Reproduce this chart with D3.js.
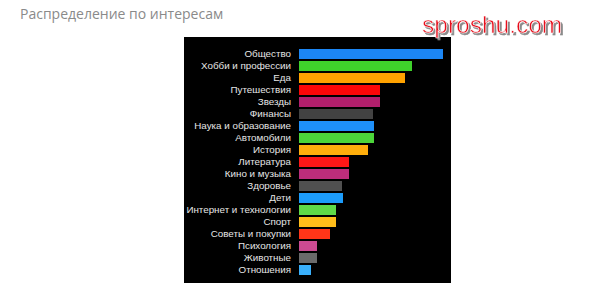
<!DOCTYPE html>
<html>
<head>
<meta charset="utf-8">
<script src="https://cdn.jsdelivr.net/npm/d3@7"></script>
<style>
  body { margin: 0; background: #fff; }
  svg { display: block; }
</style>
</head>
<body>
<svg id="chart" width="600" height="285"></svg>
<script>
var categories = ['Общество', 'Хобби и профессии', 'Еда', 'Путешествия', 'Звезды', 'Финансы',
    'Наука и образование', 'Автомобили', 'История', 'Литература', 'Кино и музыка', 'Здоровье',
    'Дети', 'Интернет и технологии', 'Спорт', 'Советы и покупки', 'Психология', 'Животные', 'Отношения'];
var values = [144, 113, 106, 81, 81, 74, 75, 75, 69, 50, 50, 43, 44, 37, 37, 31, 18, 18, 12];
var barColors = ['#1c86f4', '#3fd12b', '#ffa200', '#fd0707', '#b21f6c', '#424242',
    '#1e90fa', '#4cd53a', '#ffae0c', '#fe1717', '#bd2d7b', '#505050',
    '#1c9cfb', '#5fd948', '#ffbd1a', '#ff3518', '#cc4a92', '#6a6a6a', '#3ab0fb'];

var svg = d3.select('#chart');

// shadow for the watermark
var defs = svg.append('defs');
defs.append('filter').attr('id', 'wmShadow')
    .attr('x', '-10%').attr('y', '-30%').attr('width', '130%').attr('height', '170%')
    .append('feDropShadow')
    .attr('dx', 2).attr('dy', 2).attr('stdDeviation', 0.6)
    .attr('flood-color', '#8a8a8a').attr('flood-opacity', 1);

// title
svg.append('text')
    .attr('x', 20).attr('y', 19)
    .style('font-family', 'Open Sans')
    .style('font-size', '14px')
    .style('fill', '#8a8a8a')
    .text('Распределение по интересам');

// black panel
svg.append('rect')
    .attr('x', 184).attr('y', 37)
    .attr('width', 267).attr('height', 246)
    .style('fill', '#000');

var y = d3.scaleBand()
    .domain(categories)
    .range([48, 276])
    .paddingInner(1 / 6)
    .paddingOuter(1 / 12);

var x = d3.scaleLinear()
    .domain([0, 144])
    .range([299, 443]);

var g = svg.append('g');

g.selectAll('.bar')
    .data(categories)
    .enter().append('rect')
    .attr('class', 'bar')
    .attr('x', x(0))
    .attr('y', function(d) { return y(d); })
    .attr('height', y.bandwidth())
    .attr('width', function(d, i) { return x(values[i]) - x(0); })
    .style('fill', function(d, i) { return barColors[i]; });

var yAxis = d3.axisLeft(y).tickSize(0).tickPadding(0);
var axisG = svg.append('g')
    .attr('transform', 'translate(291,0)')
    .call(yAxis);
axisG.select('.domain').remove();
axisG.selectAll('text')
    .style('font-family', 'Liberation Sans, Arial')
    .style('font-size', '9.8px')
    .style('fill', '#e6e6e6');

// watermark
svg.append('text')
    .attr('x', 422).attr('y', 33)
    .style('font-family', 'Liberation Sans, Arial')
    .style('font-size', '24.5px')
    .style('fill', '#e8101c')
    .style('stroke', '#fff').style('stroke-width', 0.6)
    .attr('filter', 'url(#wmShadow)')
    .text('sproshu.com');
</script>
</body>
</html>
